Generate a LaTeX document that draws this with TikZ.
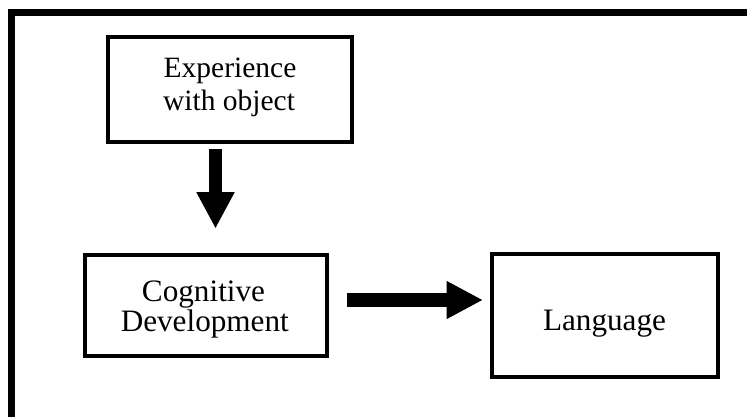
\documentclass[tikz,border=0pt]{standalone}
\usepackage{fontspec}
\setmainfont{Liberation Serif}
\usetikzlibrary{arrows.meta}
\tikzset{
  box/.style={draw=black, line width=4pt, fill=white},
  lbl/.style={anchor=base, inner sep=0pt, text=black},
  bigfont/.style={font=\fontsize{31.2}{34}\selectfont},
  expfont/.style={font=\fontsize{29.5}{33}\selectfont},
  blockarrow/.style={draw=black, line width=13.4pt,
    -{Triangle[length=36.5pt,width=35.5pt]}},
}
\begin{document}
\begin{tikzpicture}[x=1pt,y=-1pt]
\clip (0,0) rectangle (747,416);
\fill[white] (0,0) rectangle (747,416);
% outer frame (cropped at right and bottom)
\draw[line width=6.5pt] (11.5,12.5) rectangle (770,440);
% boxes
\node[box, minimum width=244pt, minimum height=105.5pt, inner sep=0pt] (exp) at (230,89.25) {};
\node[box, minimum width=241.8pt, minimum height=101.3pt, inner sep=0pt] (cog) at (205.6,305.35) {};
\node[box, minimum width=226pt, minimum height=123pt, inner sep=0pt] (lang) at (605,315) {};
% texts
\node[lbl, expfont] (expa) at (230,77) {Experience};
\node[lbl, expfont] (expb) at (229,110) {with object};
\node[lbl, bigfont] (coga) at (203.5,301.5) {Cognitive};
\node[lbl, bigfont] (cogb) at (204.8,331) {Development};
\node[lbl, bigfont] (langa) at (604.5,330.7) {Language};
% connectors
\coordinate (d1) at ([yshift=-4.5pt]exp.south -| 215.5,0);
\coordinate (d2) at ([yshift=24pt]cog.north -| 215.5,0);
\draw[blockarrow] (d1) -- (d2);
\coordinate (r1) at (347.3,300);
\coordinate (r2) at ([xshift=-7pt]lang.west |- 0,300);
\draw[blockarrow] (r1) -- (r2);
\end{tikzpicture}
\end{document}
